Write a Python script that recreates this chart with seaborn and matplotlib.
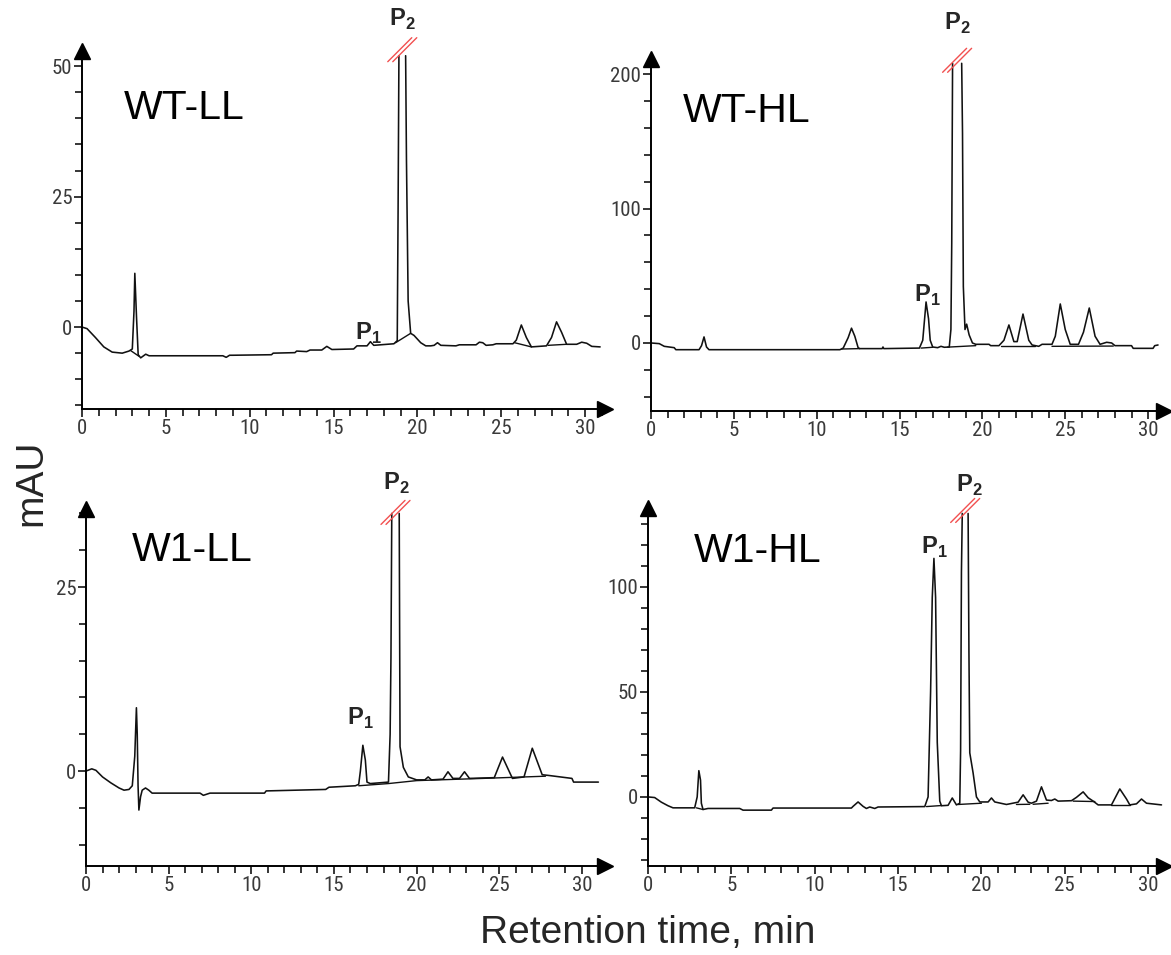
import numpy as np
import pandas as pd
import matplotlib
matplotlib.use("Agg")
import matplotlib.pyplot as plt
import seaborn as sns
from matplotlib import font_manager
from matplotlib.ticker import MultipleLocator
from matplotlib.lines import Line2D
from matplotlib.transforms import IdentityTransform

nan = np.nan

# ---------------- data ----------------
# WT-LL
wtll_time = [0, 0.3, 0.8, 1.3, 1.8, 2.4, 2.8, 3.0, 3.1, 3.15, 3.25, 3.35, 3.5, 3.8, 4.0, 8.4, 8.6, 8.8, 9.0, 11.3,
             11.4, 12.7, 12.8, 13.4, 13.6, 14.3, 14.6, 14.9, 16.2, 16.4, 17.0, 17.2, 17.4, 18.6, 18.8, 18.85, 18.9, nan, 19.3, 19.35,
             19.45, 19.6, 19.8, 20.2, 20.5, 20.8, 21.0, 21.2, 21.4, 22.3, 22.5, 23.5, 23.7, 23.9, 24.1, 24.5, 24.7, 25.7, 25.9, 26.2,
             26.5, 26.8, 27.7, 28.0, 28.3, 28.6, 28.9, 29.5, 29.8, 30.1, 30.4, 30.9]
wtll_mau = [0, -0.3, -2.0, -3.8, -4.8, -5.0, -4.6, -4.2, 3.0, 10.3, 2.0, -5.3, -5.9, -5.2, -5.5, -5.5, -5.8, -5.4, -5.4, -5.3,
            -5.0, -4.9, -4.6, -4.7, -4.4, -4.4, -3.7, -4.3, -4.2, -3.6, -3.6, -2.8, -3.5, -3.2, -2.6, 22, 52, nan, 52, 32,
            5, -1.2, -1.6, -3.0, -3.6, -3.6, -3.5, -3.0, -3.5, -3.6, -3.4, -3.4, -2.9, -3.0, -3.5, -3.4, -3.2, -3.2, -2.5, 0.4,
            -2.0, -3.8, -3.6, -2.0, 1.0, -1.0, -3.3, -3.3, -2.9, -3.1, -3.7, -3.8]
wtll_base_time = [2.9, 3.4, nan, 18.7, 19.6, nan, 25.8, 26.8, nan, 27.8, 28.9]
wtll_base_mau = [-4.5, -5.6, nan, -3.0, -1.2, nan, -3.0, -3.8, nan, -3.5, -3.3]

# WT-HL
wthl_time = [0, 0.5, 0.8, 1.4, 1.5, 2.9, 3.05, 3.2, 3.35, 3.5, 11.4, 11.6, 11.9, 12.1, 12.3, 12.5, 12.6, 13.95, 14.0, 14.05,
             16.2, 16.4, 16.6, 16.75, 16.85, 17.0, 17.3, 17.5, 17.7, 18.0, 18.1, 18.15, 18.2, nan, 18.75, 18.8, 18.85, 18.95, 19.05, 19.2,
             19.4, 19.6, 20.4, 20.5, 21.0, 21.3, 21.6, 21.9, 22.1, 22.45, 22.8, 23.0, 23.4, 23.6, 24.2, 24.4, 24.7, 25.0, 25.3, 25.8,
             26.1, 26.45, 26.8, 27.1, 27.5, 27.8, 28.0, 29.0, 29.1, 30.3, 30.4, 30.6]
wthl_mau = [0, -0.5, -2.5, -3.5, -5.0, -5.0, -2.0, 4.5, -3.0, -5.0, -5.0, -3.8, 4.0, 11.0, 5.0, -3.5, -4.2, -4.2, -3.0, -4.2,
            -3.8, 2.0, 30.5, 18.0, 2.0, -3.0, -3.5, -2.5, -3.2, -3.0, 10, 74, 208, nan, 208, 156, 42, 10, 14, 6,
            0, -1.0, -1.0, -2.0, -2.0, 2.0, 13.4, 1.0, 1.0, 21.5, 2.0, -1.5, -2.5, -1.0, -1.0, 5.0, 29.0, 10.0, -1.0, -1.0,
            8.0, 26.0, 5.0, -1.0, 0.5, 0.0, -2.0, -2.0, -4.0, -4.0, -2.0, -1.5]
wthl_base_time = [11.5, 12.6, nan, 16.3, 17.0, nan, 17.9, 19.6, nan, 21.1, 23.2, nan, 24.2, 27.9]
wthl_base_mau = [-4.5, -4.2, nan, -3.8, -3.2, nan, -3.1, -2.0, nan, -2.5, -2.5, nan, -2.5, -2.3]

# W1-LL
w1ll_time = [0, 0.35, 0.6, 1.0, 1.5, 2.0, 2.3, 2.6, 2.8, 2.95, 3.05, 3.1, 3.15, 3.2, 3.3, 3.4, 3.6, 3.8, 4.0, 6.9,
             7.1, 7.5, 10.8, 10.9, 14.5, 14.7, 16.3, 16.5, 16.6, 16.75, 16.9, 17.0, 17.2, 18.3, 18.4, 18.45, 18.5, nan, 18.95, 19.0,
             19.2, 19.5, 20.0, 20.5, 20.7, 20.9, 21.6, 21.9, 22.2, 22.6, 22.9, 23.2, 24.7, 25.2, 25.8, 26.5, 27.0, 27.6, 28.0, 29.4,
             29.5, 31.0]
w1ll_mau = [0, 0.3, 0.1, -0.8, -1.6, -2.3, -2.6, -2.5, -2.0, 2.0, 8.6, 5.0, -2.0, -5.3, -3.5, -2.6, -2.3, -2.6, -3.0, -3.0,
            -3.3, -3.0, -3.0, -2.7, -2.5, -2.2, -2.0, -1.8, 0.0, 3.5, 1.5, -1.5, -1.7, -1.5, 5.0, 15.4, 35.0, nan, 35.0, 3.3,
            0.5, -0.8, -1.2, -1.2, -0.8, -1.2, -1.1, -0.1, -1.0, -1.0, -0.1, -1.0, -0.9, 1.9, -1.0, -0.8, 3.1, -0.5, -0.6, -1.0,
            -1.5, -1.5]
w1ll_base_time = [16.5, 18.3, 20.0, 24.0, 27.8]
w1ll_base_mau = [-2.0, -1.7, -1.3, -1.0, -0.7]

# W1-HL
w1hl_time = [0, 0.4, 0.8, 1.2, 1.5, 2.8, 2.95, 3.05, 3.15, 3.2, 3.3, 3.6, 5.5, 5.7, 7.4, 7.5, 12.2, 12.3, 12.6, 12.9,
             13.1, 13.3, 13.6, 13.8, 16.6, 16.8, 16.95, 17.05, 17.15, 17.25, 17.35, 17.5, 17.6, 18.0, 18.25, 18.5, 18.7, 18.75, 18.8, 18.85,
             nan, 19.2, 19.25, 19.3, 19.5, 19.7, 19.9, 20.4, 20.6, 20.8, 21.5, 22.2, 22.5, 22.8, 23.0, 23.3, 23.6, 23.9, 24.2, 24.4,
             24.6, 25.4, 25.7, 26.1, 26.4, 26.7, 27.0, 27.8, 28.3, 28.7, 28.9, 29.3, 29.6, 29.9, 30.8]
w1hl_mau = [0, -0.3, -2.5, -4.2, -5.2, -5.2, 0.0, 12.5, 8.0, -3.0, -6.0, -5.5, -5.5, -6.3, -6.3, -5.3, -5.3, -4.5, -2.4, -4.5,
            -5.5, -4.8, -5.5, -4.8, -4.6, 0.0, 50.0, 95.0, 113.6, 95.0, 26.0, -2.0, -4.2, -4.0, -0.5, -3.8, -3.0, 22.0, 107.0, 135.0,
            nan, 135.0, 69.0, 21.0, 11.4, 0.0, -2.4, -2.4, -0.5, -2.4, -3.6, -2.5, 1.0, -2.5, -3.0, -2.0, 4.8, -1.5, -1.7, -1.0,
            -2.0, -1.8, -0.2, 2.4, -0.4, -2.0, -3.8, -3.8, 3.8, -1.0, -3.8, -3.3, -1.0, -3.0, -3.8]
w1hl_base_time = [2.9, 3.3, nan, 16.7, 17.6, nan, 18.6, 20.0, nan, 22.1, 22.9, nan, 23.1, 24.0, nan, 25.5, 26.8, nan, 27.8, 28.9]
w1hl_base_mau = [-5.2, -6.0, nan, -4.6, -4.1, nan, -3.6, -3.0, nan, -3.6, -3.5, nan, -3.5, -3.0, nan, -2.0, -2.2, nan, -3.8, -3.8]

sample_names = ["WT-LL", "WT-HL", "W1-LL", "W1-HL"]
x_major_ticks = [0, 5, 10, 15, 20, 25, 30]
y_major_ticks = [[0, 25, 50], [0, 100, 200], [0, 25], [0, 50, 100]]

# ---------------- style ----------------
sns.set_theme(style="ticks")
plt.rcParams["font.family"] = ["Liberation Sans", "DejaVu Sans"]
plt.rcParams["mathtext.fontset"] = "custom"
plt.rcParams["mathtext.rm"] = "Liberation Sans"
plt.rcParams["mathtext.bf"] = "Liberation Sans:bold"

# narrow face for the tick numbers, if one is installed
installed = {f.name for f in font_manager.fontManager.ttflist}
narrow = None
for cand in ["Liberation Sans Narrow", "DejaVu Sans Condensed", "Roboto Condensed", "Open Sans Condensed"]:
    if cand in installed:
        narrow = cand
        break
tick_family = narrow if narrow else "DejaVu Sans"
tick_stretch = "normal" if narrow else "condensed"

W, H = 1171, 955
fig = plt.figure(figsize=(W / 100, H / 100), dpi=100)
fig.patch.set_facecolor("white")


def frame(t, v):
    t = np.asarray(t, float)
    v = np.asarray(v, float)
    seg = np.cumsum(np.isnan(v))
    df = pd.DataFrame({"time": t, "mAU": v, "seg": seg})
    return df.dropna()


# pixel layout: (left, right, top, bottom) of the axis frame, and limits
layout = [
    dict(px=(82, 605, 51, 409), xlim=(0, 31.19), ylim=(-15.7, 52.9), minor=5),
    dict(px=(651, 1164, 59, 411), xlim=(0, 30.96), ylim=(-50.6, 211.2), minor=20),
    dict(px=(86, 605, 509, 866), xlim=(0, 31.4), ylim=(-12.9, 35.6), minor=5),
    dict(px=(648, 1164, 508, 866), xlim=(0, 30.95), ylim=(-32.9, 137.6), minor=10),
]
traces = [(wtll_time, wtll_mau, wtll_base_time, wtll_base_mau),
          (wthl_time, wthl_mau, wthl_base_time, wthl_base_mau),
          (w1ll_time, w1ll_mau, w1ll_base_time, w1ll_base_mau),
          (w1hl_time, w1hl_mau, w1hl_base_time, w1hl_base_mau)]
title_pos = [(2.5, 39.8), (1.93, 164), (2.78, 28.5), (2.76, 111.9)]
p2_pos = [(19.1, 57.7), (18.47, 232.7), (18.8, 38.2), (19.26, 145.2)]
p1_pos = [(17.05, -2.5), (16.7, 30.5), (16.6, 6.25), (17.2, 116)]
p2_gap = [(18.9, 19.3, 52, 6), (18.2, 18.75, 208, 3), (18.5, 18.95, 35.0, 1), (18.85, 19.2, 135, 3)]

for i, lay in enumerate(layout):
    l, r, t, b = lay["px"]
    ax = fig.add_axes([l / W, 1 - b / H, (r - l) / W, (b - t) / H])
    tt, vv, bt, bv = traces[i]
    sns.lineplot(data=frame(tt, vv), x="time", y="mAU", units="seg", estimator=None, sort=False,
                 color="#111111", lw=1.15, ax=ax, legend=False)
    sns.lineplot(data=frame(bt, bv), x="time", y="mAU", units="seg", estimator=None, sort=False,
                 color="#111111", lw=1.0, ax=ax, legend=False)
    ax.set_xlim(*lay["xlim"])
    ax.set_ylim(*lay["ylim"])
    ax.set_xlabel("")
    ax.set_ylabel("")
    ax.set_facecolor("none")
    sns.despine(ax=ax)
    for s in ("left", "bottom"):
        ax.spines[s].set_linewidth(1.4)
        ax.spines[s].set_color("black")
    ax.set_xticks(x_major_ticks)
    ax.xaxis.set_minor_locator(MultipleLocator(1))
    ax.set_yticks(y_major_ticks[i])
    ax.yaxis.set_minor_locator(MultipleLocator(lay["minor"]))
    ax.tick_params(which="both", direction="out", color="black", width=1.1,
                   bottom=True, left=True, labelsize=15, labelcolor="#3a3a3a", pad=1)
    ax.tick_params(which="major", length=6)
    ax.tick_params(which="minor", length=5)
    for lbl in ax.get_xticklabels() + ax.get_yticklabels():
        lbl.set_fontfamily(tick_family)
        lbl.set_fontstretch(tick_stretch)
    # arrow heads
    ax.plot([1], [0], marker=">", ms=11, color="black", transform=ax.transAxes, clip_on=False)
    ax.plot([0], [1], marker="^", ms=11, color="black", transform=ax.transAxes, clip_on=False)
    # labels
    ax.text(*title_pos[i], sample_names[i], fontsize=29.5, ha="left", va="baseline", color="black")
    ax.text(*p2_pos[i], r"$\mathbf{P}_{\mathbf{2}}$", fontsize=17, ha="center", va="baseline")
    ax.text(*p1_pos[i], r"$\mathbf{P}_{\mathbf{1}}$", fontsize=17, ha="center", va="baseline")
    # red break marks over the truncated P2 peak
    tl, tr, top, up = p2_gap[i]
    x0, y0 = ax.transData.transform(((tl + tr) / 2, top))
    y0 += up
    for dx in (-2.5, 2.5):
        fig.add_artist(Line2D([x0 + dx - 12, x0 + dx + 12], [y0 - 12, y0 + 12],
                              transform=IdentityTransform(), color="#f25050", lw=1.0))

fig.text(31 / W, 1 - 483 / H, "mAU", rotation=90, fontsize=28, ha="center", va="center")
fig.text(648 / W, 1 - 943 / H, "Retention time, min", fontsize=28, ha="center", va="baseline")

fig.savefig("out.png", dpi=100, facecolor="white")
